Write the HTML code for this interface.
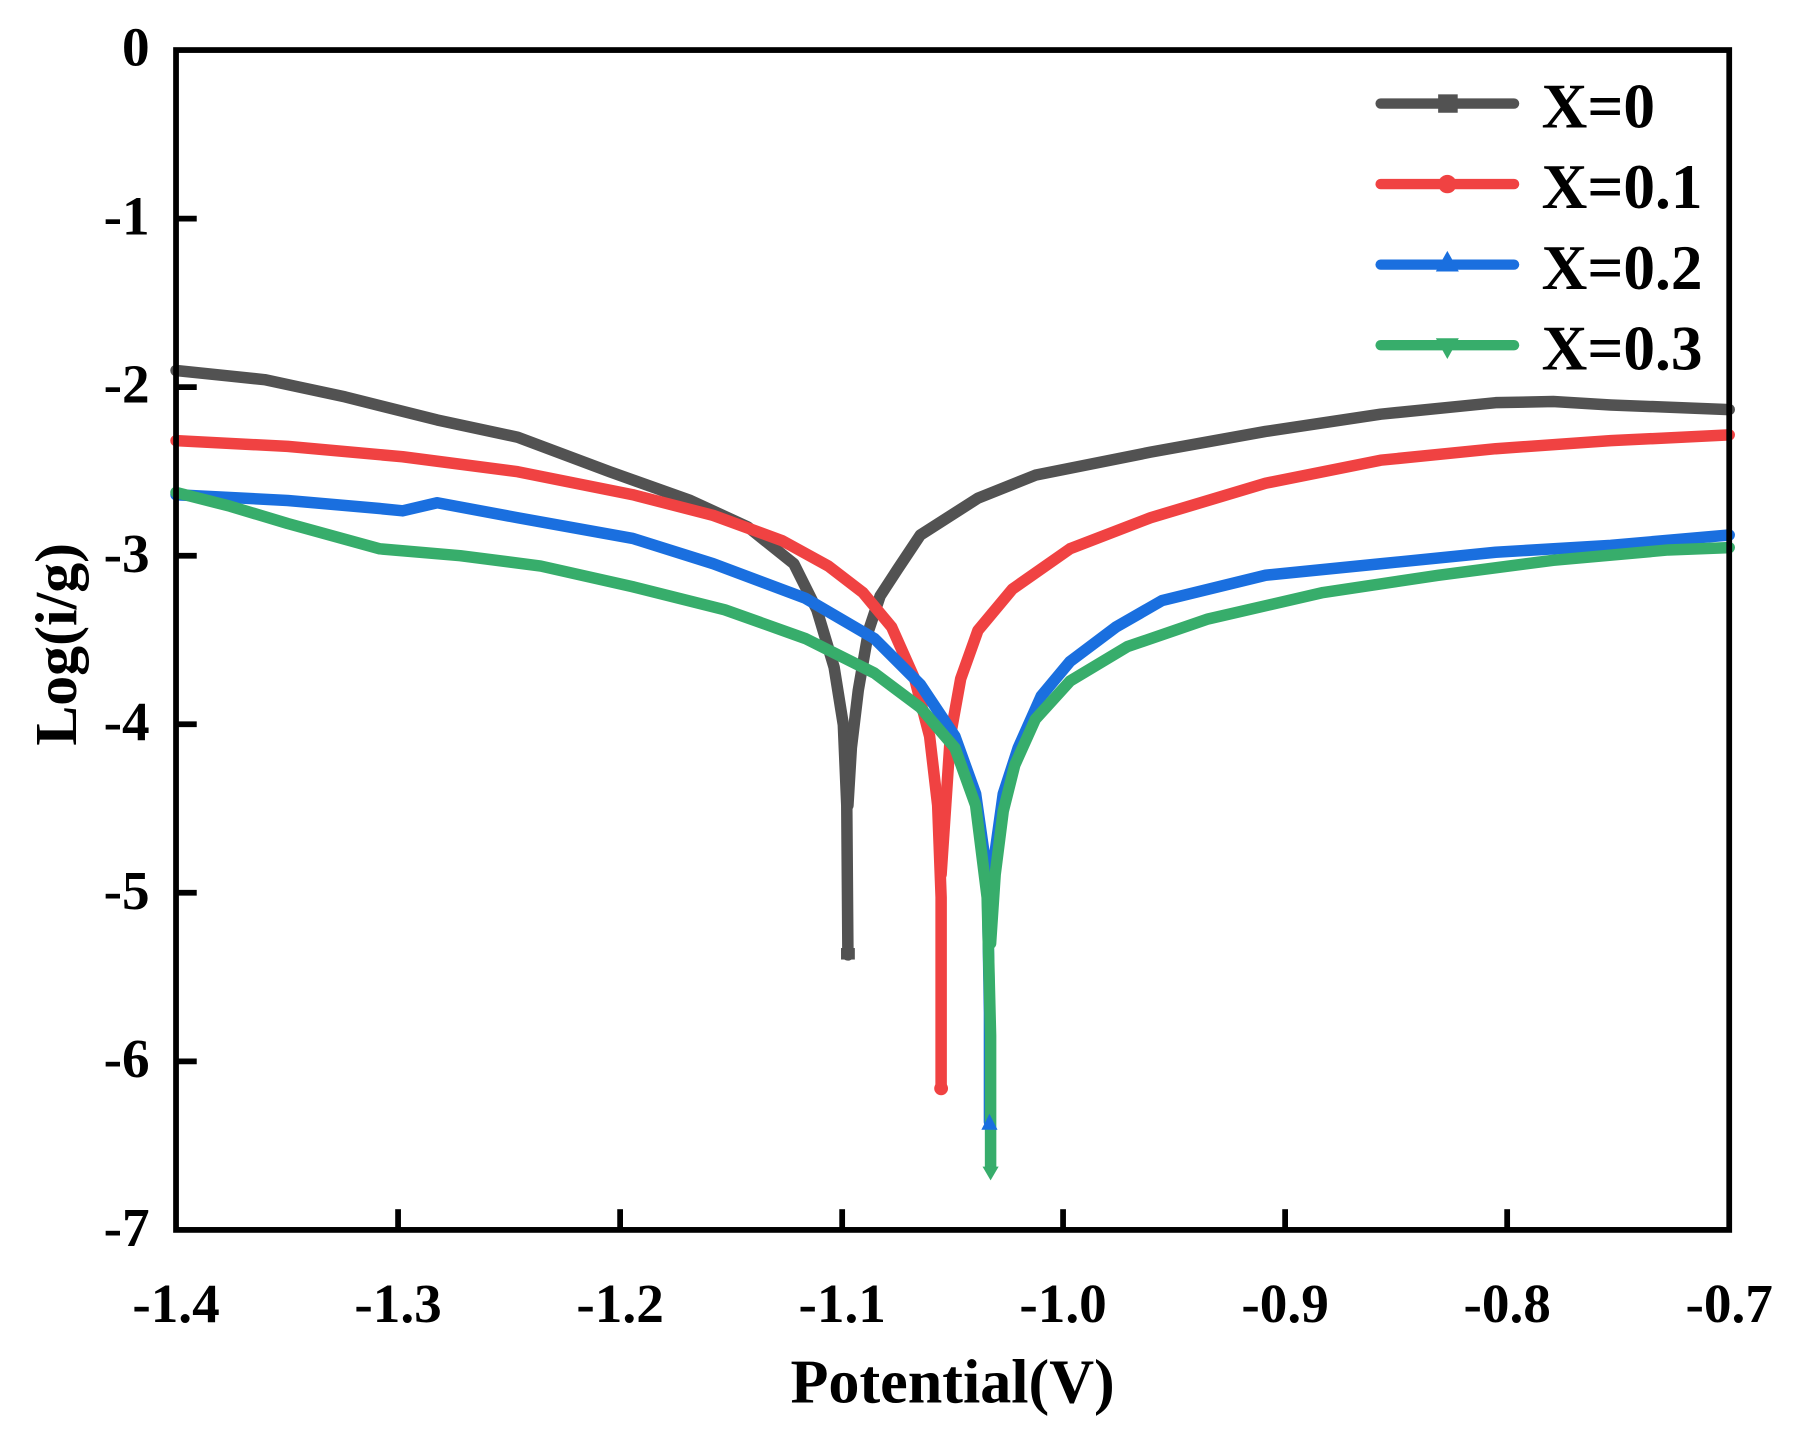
<!DOCTYPE html>
<html><head><meta charset="utf-8"><style>html,body{margin:0;padding:0;background:#fff;}svg{display:block;}</style></head>
<body>
<svg width="1804" height="1437" viewBox="0 0 1568 1249" xmlns="http://www.w3.org/2000/svg" font-family="Liberation Serif, serif" font-weight="bold">
<rect width="1568" height="1249" fill="#fff"/>
<g fill="none" stroke-width="10" stroke-linejoin="round" stroke-linecap="round">
<polyline stroke="#525252" points="153,322 230,330 300,345 380,365 450,380 530,410 600,435 650,458 690,490 710,530 725,580 733,630 736,700 737,830"/>
<polyline stroke="#525252" points="737,700 740,650 746,600 755,548 765,518 780,495 800,465 850,433 900,413 1000,393 1100,375 1200,360 1300,350 1350,349 1400,352 1503,356"/>
<polyline stroke="#f04242" points="153,383 250,388 350,397 450,410 550,430 620,448 680,470 720,492 750,515 775,545 795,590 808,640 815,700 818,780 818,946"/>
<polyline stroke="#f04242" points="818,760 822,700 826,640 835,590 850,548 880,512 930,477 1000,450 1100,420 1200,400 1300,390 1400,383 1503,378"/>
<polyline stroke="#1a6fdf" points="153,430 250,435 330,442 350,444 380,437 450,450 550,468 620,490 700,520 760,555 800,595 830,640 848,690 858,760 860,880 860,975"/>
<polyline stroke="#1a6fdf" points="860,800 865,740 872,690 885,650 905,605 930,575 970,545 1010,522 1100,500 1200,490 1300,480 1400,474 1503,465"/>
<polyline stroke="#37ad6b" points="153,428 200,440 250,455 330,477 400,483 470,492 550,510 630,530 700,555 760,585 800,615 830,650 848,700 858,780 861,900 861,1015"/>
<polyline stroke="#37ad6b" points="861,820 865,760 872,705 882,665 900,625 930,592 980,562 1050,538 1150,515 1250,500 1350,487 1450,478 1503,476"/>
</g>
<rect x="731" y="824" width="12" height="10" fill="#525252"/>
<circle cx="818" cy="946" r="6" fill="#f04242"/>
<polygon points="853,982 867,982 860,968" fill="#1a6fdf"/>
<polygon points="854,1014 868,1014 861,1026" fill="#37ad6b"/>
<g stroke="#000" stroke-width="5" fill="none">
<rect x="153" y="43.5" width="1350" height="1025.5"/>
</g>
<g stroke="#000" stroke-width="5">
<line x1="153" y1="190" x2="171" y2="190"/><line x1="153" y1="336.5" x2="171" y2="336.5"/><line x1="153" y1="483" x2="171" y2="483"/><line x1="153" y1="629.5" x2="171" y2="629.5"/><line x1="153" y1="776" x2="171" y2="776"/><line x1="153" y1="922.5" x2="171" y2="922.5"/>
<line x1="346" y1="1069" x2="346" y2="1051"/><line x1="539" y1="1069" x2="539" y2="1051"/><line x1="732" y1="1069" x2="732" y2="1051"/><line x1="924" y1="1069" x2="924" y2="1051"/><line x1="1117" y1="1069" x2="1117" y2="1051"/><line x1="1310" y1="1069" x2="1310" y2="1051"/>
</g>
<g font-size="48" text-anchor="end" fill="#000">
<text x="130" y="57">0</text><text x="130" y="204">-1</text><text x="130" y="350">-2</text><text x="130" y="497">-3</text><text x="130" y="643">-4</text><text x="130" y="790">-5</text><text x="130" y="936">-6</text><text x="130" y="1083">-7</text>
</g>
<g font-size="48" text-anchor="middle" fill="#000">
<text x="153" y="1149">-1.4</text><text x="346" y="1149">-1.3</text><text x="539" y="1149">-1.2</text><text x="732" y="1149">-1.1</text><text x="924" y="1149">-1.0</text><text x="1117" y="1149">-0.9</text><text x="1310" y="1149">-0.8</text><text x="1503" y="1149">-0.7</text>
</g>
<text x="828" y="1219" font-size="54" text-anchor="middle">Potential(V)</text>
<text transform="translate(66,560) rotate(-90)" font-size="52" text-anchor="middle">Log(i/g)</text>
<g stroke-width="9" stroke-linecap="round">
<line x1="1200" y1="90" x2="1316" y2="90" stroke="#525252"/>
<line x1="1200" y1="160" x2="1316" y2="160" stroke="#f04242"/>
<line x1="1200" y1="230" x2="1316" y2="230" stroke="#1a6fdf"/>
<line x1="1200" y1="300" x2="1316" y2="300" stroke="#37ad6b"/>
</g>
<rect x="1250" y="82" width="17" height="16" fill="#525252"/>
<circle cx="1258" cy="160" r="8" fill="#f04242"/>
<polygon points="1248,236 1268,236 1258,218" fill="#1a6fdf"/>
<polygon points="1248,294 1268,294 1258,312" fill="#37ad6b"/>
<g font-size="55" fill="#000">
<text x="1340" y="111">X=0</text><text x="1340" y="181">X=0.1</text><text x="1340" y="251">X=0.2</text><text x="1340" y="321">X=0.3</text>
</g>
</svg>
</body></html>
